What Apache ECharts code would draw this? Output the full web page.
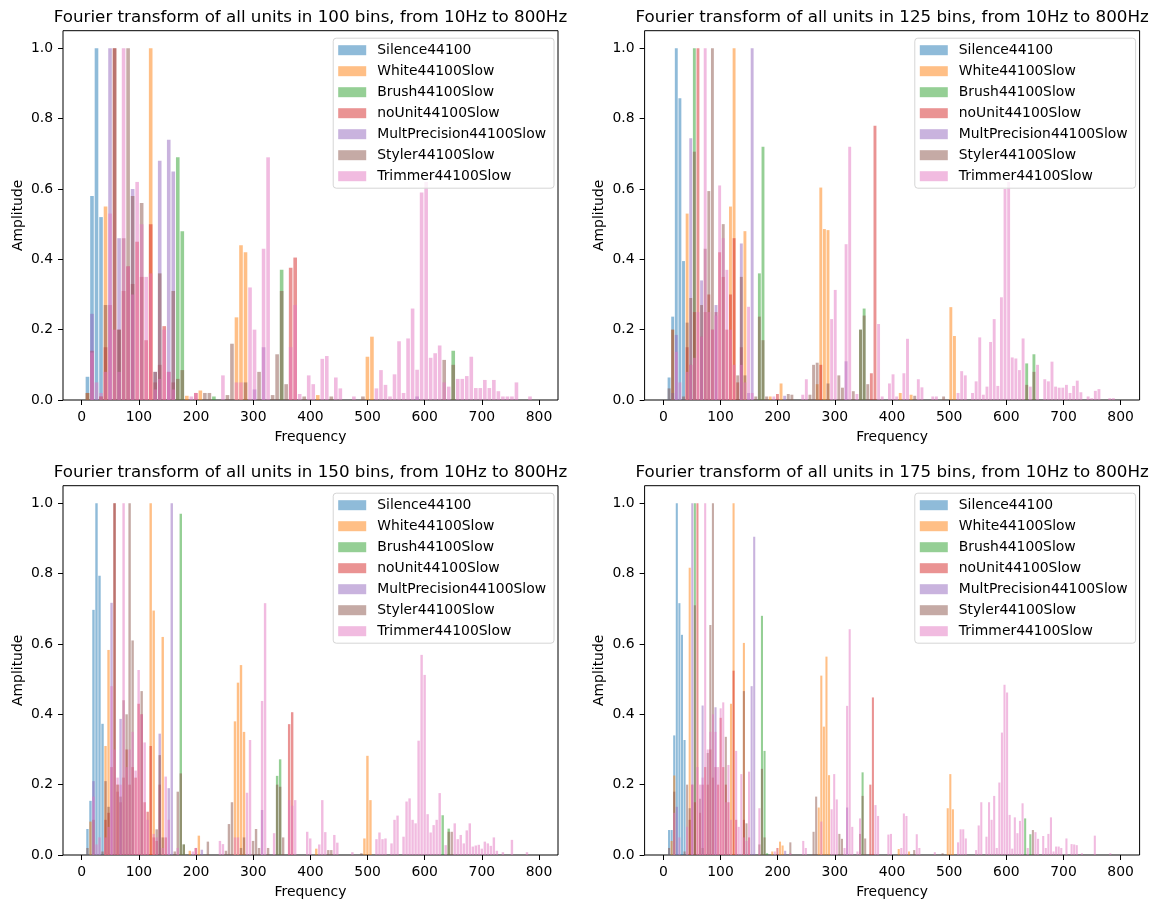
<!DOCTYPE html>
<html>
<head>
<meta charset="utf-8">
<script src="https://cdn.jsdelivr.net/npm/echarts@6/dist/echarts.min.js"></script>
<style>
  html, body { margin: 0; padding: 0; background: #ffffff; }
  #chart { width: 1161px; height: 902px; }
</style>
</head>
<body>
<div id="chart"></div>
<script>
// Units, in plotting order
const unitNames = [
  'Silence44100', 'White44100Slow', 'Brush44100Slow', 'noUnit44100Slow',
  'MultPrecision44100Slow', 'Styler44100Slow', 'Trimmer44100Slow'
];
const unitColors = [
  'rgba(31,119,180,0.5)', 'rgba(255,127,14,0.5)', 'rgba(44,160,44,0.5)', 'rgba(214,39,40,0.5)',
  'rgba(148,103,189,0.5)', 'rgba(140,86,75,0.5)', 'rgba(227,119,194,0.5)'
];
const binCounts = [100, 125, 150, 175];
const freqMin = 10;
const freqMax = 800;
const xTicks = [0, 100, 200, 300, 400, 500, 600, 700, 800];
const yTicks = [0, 0.2, 0.4, 0.6, 0.8, 1.0];

// Spectra: [bin index, normalised amplitude]; bins not listed are empty.
// ---- 100 bins ----
const silence100 = [[0,0.066],[1,0.58],[2,1.0],[3,0.52]];
const white100 = [[0,0.02],[4,0.55],[14,1.0],[22,0.012],[25,0.027],[33,0.235],[34,0.44],[35,0.42],[51,0.014],[62,0.123],[63,0.18]];
const brush100 = [[20,0.69],[21,0.48],[28,0.01],[43,0.37],[81,0.14]];
const noUnit100 = [[1,0.14],[3,0.01],[4,0.15],[5,0.27],[6,1.0],[7,0.2],[8,0.31],[9,0.38],[10,0.33],[11,0.45],[12,0.35],[13,0.17],[14,0.5],[15,0.05],[16,0.1],[17,0.21],[18,0.08],[19,0.05],[24,0.02],[45,0.376],[46,0.405]];
const multPrecision100 = [[1,0.245],[5,1.0],[7,0.46],[10,0.6],[15,0.08],[16,0.68],[18,0.74],[19,0.65],[37,0.03],[39,0.15],[73,0.01]];
const styler100 = [[0,0.02],[3,0.01],[4,0.27],[6,1.0],[7,0.2],[8,0.46],[9,1.0],[10,0.58],[12,0.56],[15,0.08],[16,0.36],[19,0.31],[20,0.06],[21,0.085],[26,0.02],[27,0.02],[31,0.014],[32,0.16],[35,0.05],[38,0.08],[41,0.014],[42,0.13],[43,0.31],[44,0.045],[48,0.01],[54,0.01],[61,0.01],[79,0.114],[81,0.1]];
const trimmer100 = [[1,0.135],[2,0.05],[3,0.02],[4,0.08],[5,0.53],[6,0.2],[7,0.08],[8,1.0],[9,0.38],[10,0.3],[11,0.62],[12,0.5],[13,0.35],[14,0.36],[15,0.03],[16,0.06],[17,0.2],[18,0.08],[19,0.03],[23,0.01],[24,0.02],[30,0.07],[33,0.05],[34,0.05],[36,0.32],[37,0.2],[39,0.43],[40,0.69],[45,0.15],[46,0.27],[47,0.017],[49,0.07],[50,0.045],[52,0.117],[53,0.125],[55,0.064],[56,0.033],[59,0.01],[64,0.033],[65,0.085],[66,0.043],[67,0.01],[68,0.073],[69,0.167],[70,0.02],[71,0.175],[72,0.26],[73,0.086],[74,0.59],[75,0.62],[76,0.12],[77,0.133],[78,0.155],[79,0.05],[80,0.038],[82,0.06],[83,0.06],[84,0.068],[85,0.123],[86,0.034],[87,0.034],[88,0.057],[89,0.034],[90,0.057],[91,0.025],[92,0.01],[93,0.01],[94,0.01],[95,0.05],[98,0.01]];

// ---- 125 bins ----
const silence125 = [[0,0.064],[1,0.237],[2,1.0],[3,0.858],[4,0.395]];
const white125 = [[1,0.2],[5,0.53],[17,0.55],[18,1.0],[21,0.48],[28,0.01],[31,0.047],[41,0.045],[42,0.604],[43,0.486],[44,0.483],[64,0.02],[67,0.015],[78,0.264],[79,0.182]];
const brush125 = [[7,1.0],[25,0.36],[26,0.72],[53,0.2],[54,0.26],[99,0.104],[101,0.13]];
const noUnit125 = [[5,0.15],[6,0.1],[7,0.25],[8,1.0],[9,0.18],[10,0.25],[11,0.3],[12,0.2],[13,0.25],[14,0.42],[15,0.35],[16,0.2],[17,0.3],[18,0.46],[19,0.05],[20,0.15],[30,0.017],[42,0.1],[56,0.076],[57,0.78]];
const multPrecision125 = [[1,0.02],[2,0.185],[6,0.744],[9,0.34],[13,0.27],[20,0.445],[22,0.02],[23,1.0],[32,0.012],[49,0.11]];
const styler125 = [[0,0.033],[1,0.2],[4,0.01],[5,0.22],[6,0.29],[7,0.706],[9,0.27],[10,0.43],[11,0.594],[12,1.0],[15,0.5],[19,0.07],[20,0.35],[21,0.07],[24,0.01],[25,0.237],[26,0.17],[27,0.01],[33,0.017],[34,0.015],[39,0.015],[40,0.1],[41,0.106],[44,0.047],[47,0.07],[48,0.035],[51,0.025],[53,0.2],[54,0.24],[55,0.045],[68,0.012],[76,0.01],[99,0.043],[101,0.08]];
const trimmer125 = [[2,0.137],[3,0.05],[5,0.08],[6,0.1],[7,0.12],[8,0.25],[9,0.18],[10,1.0],[11,0.25],[12,0.2],[13,0.24],[14,0.61],[15,0.46],[16,0.37],[17,0.2],[18,0.1],[20,0.1],[21,0.05],[22,0.265],[23,0.02],[29,0.01],[37,0.015],[38,0.059],[45,0.23],[46,0.313],[49,0.443],[50,0.72],[52,0.017],[58,0.216],[59,0.01],[61,0.047],[62,0.073],[63,0.01],[65,0.076],[66,0.174],[69,0.059],[70,0.036],[73,0.01],[74,0.01],[80,0.02],[81,0.082],[82,0.07],[84,0.02],[85,0.053],[86,0.178],[87,0.015],[88,0.038],[89,0.165],[90,0.23],[91,0.04],[92,0.292],[93,0.6],[94,0.62],[95,0.121],[96,0.118],[97,0.085],[98,0.175],[100,0.038],[102,0.1],[104,0.059],[105,0.053],[106,0.109],[107,0.038],[108,0.035],[109,0.035],[110,0.043],[111,0.02],[112,0.04],[113,0.055],[114,0.022],[116,0.01],[117,0.005],[118,0.026],[119,0.031],[122,0.005],[123,0.005]];

// ---- 150 bins ----
const silence150 = [[0,0.074],[1,0.154],[2,0.697],[3,1.0],[4,0.794],[5,0.373]];
const white150 = [[1,0.095],[6,0.31],[7,0.583],[10,0.2],[21,1.0],[22,0.695],[25,0.62],[34,0.012],[37,0.055],[49,0.38],[50,0.49],[51,0.54],[52,0.35],[76,0.018],[92,0.047],[93,0.282],[94,0.156]];
const brush150 = [[31,0.97],[32,0.03],[63,0.225],[64,0.272],[118,0.113],[120,0.075]];
const noUnit150 = [[6,0.1],[7,0.12],[8,0.25],[9,1.0],[10,0.18],[11,0.15],[12,0.22],[13,0.3],[14,0.2],[15,0.25],[16,0.22],[17,0.43],[18,0.4],[19,0.15],[20,0.123],[21,0.31],[22,0.05],[23,0.04],[24,0.2],[26,0.05],[36,0.02],[67,0.372],[68,0.406]];
const multPrecision150 = [[2,0.21],[8,0.717],[11,0.387],[24,0.345],[27,0.19],[28,1.0],[38,0.015],[58,0.128]];
const styler150 = [[0,0.02],[2,0.1],[5,0.01],[6,0.21],[7,0.137],[9,1.0],[10,0.2],[11,0.166],[12,0.44],[13,0.4],[14,1.0],[15,0.61],[18,0.466],[23,0.073],[24,0.284],[25,0.05],[29,0.01],[30,0.18],[31,0.232],[32,0.03],[40,0.038],[46,0.012],[47,0.088],[48,0.15],[51,0.02],[52,0.05],[55,0.04],[56,0.074],[57,0.02],[60,0.02],[63,0.2],[64,0.194],[65,0.05],[80,0.014],[81,0.014],[91,0.005],[120,0.066],[121,0.066]];
const trimmer150 = [[2,0.166],[3,0.03],[4,0.05],[6,0.05],[7,0.08],[8,0.48],[9,0.3],[10,0.22],[11,0.2],[12,1.0],[13,0.25],[14,0.3],[15,0.35],[16,0.24],[17,0.526],[18,0.4],[19,0.32],[20,0.1],[22,0.06],[23,0.05],[25,0.02],[26,0.223],[27,0.1],[30,0.02],[35,0.01],[36,0.02],[44,0.04],[45,0.031],[49,0.05],[50,0.05],[53,0.177],[54,0.327],[58,0.438],[59,0.716],[62,0.062],[67,0.156],[68,0.14],[69,0.156],[73,0.066],[74,0.047],[77,0.03],[78,0.156],[79,0.065],[82,0.057],[83,0.035],[88,0.008],[96,0.045],[97,0.064],[98,0.045],[99,0.047],[101,0.033],[102,0.1],[103,0.112],[105,0.052],[106,0.152],[107,0.161],[108,0.1],[109,0.09],[110,0.325],[111,0.569],[112,0.512],[113,0.116],[114,0.064],[115,0.085],[116,0.1],[117,0.176],[119,0.028],[122,0.09],[123,0.045],[124,0.057],[125,0.033],[126,0.07],[127,0.09],[128,0.024],[129,0.027],[130,0.029],[131,0.018],[132,0.038],[133,0.033],[134,0.026],[135,0.05],[136,0.012],[138,0.008],[141,0.043],[146,0.008]];

// ---- 175 bins ----
const silence175 = [[0,0.071],[1,0.071],[2,0.34],[3,1.0],[4,0.716],[5,0.626],[6,0.327]];
const white175 = [[1,0.04],[2,0.226],[8,0.817],[24,0.43],[25,1.0],[29,0.603],[40,0.01],[43,0.038],[44,0.027],[58,0.135],[59,0.51],[60,0.365],[61,0.564],[62,0.227],[89,0.017],[93,0.01],[108,0.133],[109,0.23],[110,0.13]];
const brush175 = [[10,1.0],[36,0.68],[37,0.296],[38,0.005],[75,0.235],[138,0.104],[140,0.059]];
const noUnit175 = [[8,0.1],[9,0.2],[10,0.15],[11,1.0],[12,0.12],[13,0.2],[14,0.25],[15,0.2],[16,0.3],[17,0.22],[18,0.25],[19,0.2],[20,0.39],[21,0.25],[22,0.2],[23,0.15],[25,0.524],[26,0.1],[29,0.1],[31,0.05],[42,0.02],[78,0.2],[79,0.448]];
const multPrecision175 = [[3,0.137],[9,1.0],[13,0.425],[18,0.42],[32,0.48],[33,0.905],[45,0.012],[69,0.135]];
const styler175 = [[0,0.02],[2,0.18],[6,0.01],[7,0.2],[8,0.133],[10,0.71],[12,0.16],[13,0.02],[15,0.29],[16,0.654],[17,1.0],[22,0.336],[29,0.466],[30,0.09],[35,0.03],[36,0.245],[37,0.05],[47,0.036],[56,0.066],[57,0.166],[66,0.06],[67,0.046],[74,0.06],[75,0.168],[76,0.047],[95,0.014],[106,0.005],[141,0.071]];
const trimmer175 = [[2,0.12],[4,0.05],[7,0.08],[9,0.2],[11,0.25],[12,0.2],[13,0.22],[14,1.0],[15,0.3],[16,0.35],[17,0.4],[18,0.35],[19,0.25],[20,0.417],[21,0.434],[22,0.15],[23,0.256],[24,0.1],[26,0.296],[27,0.08],[28,0.23],[29,0.05],[30,0.04],[31,0.237],[35,0.133],[41,0.01],[47,0.005],[52,0.04],[53,0.02],[59,0.095],[63,0.13],[64,0.23],[65,0.158],[68,0.02],[69,0.424],[70,0.642],[71,0.08],[73,0.01],[74,0.104],[80,0.142],[81,0.111],[85,0.058],[86,0.06],[90,0.02],[91,0.118],[92,0.111],[96,0.059],[97,0.02],[103,0.008],[112,0.036],[113,0.073],[114,0.073],[115,0.047],[119,0.014],[120,0.084],[121,0.15],[123,0.052],[124,0.15],[125,0.1],[126,0.168],[127,0.02],[128,0.206],[129,0.348],[130,0.484],[131,0.462],[132,0.114],[133,0.018],[134,0.107],[135,0.062],[136,0.097],[137,0.147],[139,0.02],[142,0.065],[143,0.046],[145,0.054],[146,0.02],[147,0.06],[148,0.107],[149,0.01],[150,0.024],[151,0.024],[152,0.02],[154,0.047],[156,0.031],[157,0.03],[158,0.028],[160,0.005],[165,0.055],[171,0.005]];

const panelSpectra = [
  [silence100, white100, brush100, noUnit100, multPrecision100, styler100, trimmer100],
  [silence125, white125, brush125, noUnit125, multPrecision125, styler125, trimmer125],
  [silence150, white150, brush150, noUnit150, multPrecision150, styler150, trimmer150],
  [silence175, white175, brush175, noUnit175, multPrecision175, styler175, trimmer175]
];

// ---- layout ----
const FONT = 'DejaVu Sans';
const xMin = -32.8, xMax = 833.2;
const yMax = 1.05;
const plotW = 495, plotH = 369.3;
const panels = [
  { left: 63,    top: 30.7 },
  { left: 644.6, top: 30.7 },
  { left: 63,    top: 485.7 },
  { left: 644.6, top: 485.7 }
];

const grid = [], xAxis = [], yAxis = [], series = [], legend = [], graphic = [];

panels.forEach((p, k) => {
  const n = binCounts[k];
  const binHz = (freqMax - freqMin) / n;
  const pxPerHz = plotW / (xMax - xMin);
  const barPx = 0.8 * binHz * pxPerHz;

  grid.push({
    left: p.left, top: p.top, width: plotW, height: plotH,
    show: true, borderColor: '#000', borderWidth: 1, backgroundColor: 'transparent'
  });

  xAxis.push({
    type: 'value', gridIndex: k, min: xMin, max: xMax,
    name: 'Frequency', nameLocation: 'middle', nameGap: 30,
    nameTextStyle: { fontFamily: FONT, fontSize: 13.9, color: '#000' },
    axisLine: { show: false, onZero: false },
    axisTick: { show: true, length: 5, customValues: xTicks, lineStyle: { color: '#000', width: 1 } },
    axisLabel: { customValues: xTicks, margin: 10, fontFamily: FONT, fontSize: 13.9, color: '#000' },
    splitLine: { show: false }
  });

  yAxis.push({
    type: 'value', gridIndex: k, min: 0, max: yMax,
    name: 'Amplitude', nameLocation: 'middle', nameGap: 38, nameRotate: 90,
    nameTextStyle: { fontFamily: FONT, fontSize: 13.9, color: '#000' },
    axisLine: { show: false, onZero: false },
    axisTick: { show: true, length: 5, customValues: yTicks, lineStyle: { color: '#000', width: 1 } },
    axisLabel: {
      customValues: yTicks, margin: 10, fontFamily: FONT, fontSize: 13.9, color: '#000',
      formatter: v => v.toFixed(1)
    },
    splitLine: { show: false }
  });

  panelSpectra[k].forEach((spectrum, s) => {
    series.push({
      type: 'bar', name: unitNames[s], xAxisIndex: k, yAxisIndex: k,
      barWidth: barPx, barGap: '-100%',
      itemStyle: { color: unitColors[s] },
      emphasis: { disabled: true },
      data: spectrum.map(([i, a]) => [freqMin + i * binHz, a])
    });
  });

  legend.push({
    data: unitNames, orient: 'vertical',
    right: 1161 - (p.left + plotW - 4), top: p.top + 7.5,
    icon: 'rect', itemWidth: 28, itemHeight: 10, itemGap: 7,
    selectedMode: false,
    padding: [5, 8, 5, 5],
    backgroundColor: 'rgba(255,255,255,0.8)',
    borderColor: '#d5d5d5', borderWidth: 1, borderRadius: 3,
    textStyle: { fontFamily: FONT, fontSize: 13.9, lineHeight: 14, color: '#000', padding: [0, 0, 0, 6] }
  });

  graphic.push({
    type: 'text',
    x: p.left + plotW / 2, y: p.top - 13.5,
    style: {
      text: `Fourier transform of all units in ${n} bins, from ${freqMin}Hz to ${freqMax}Hz`,
      fontFamily: FONT, fontSize: 16.7, fill: '#000',
      align: 'center', verticalAlign: 'middle'
    }
  });
});

const chart = echarts.init(document.getElementById('chart'), null, { renderer: 'canvas' });
chart.setOption({
  animation: false,
  backgroundColor: '#ffffff',
  grid, xAxis, yAxis, series, legend, graphic
});
</script>
</body>
</html>
